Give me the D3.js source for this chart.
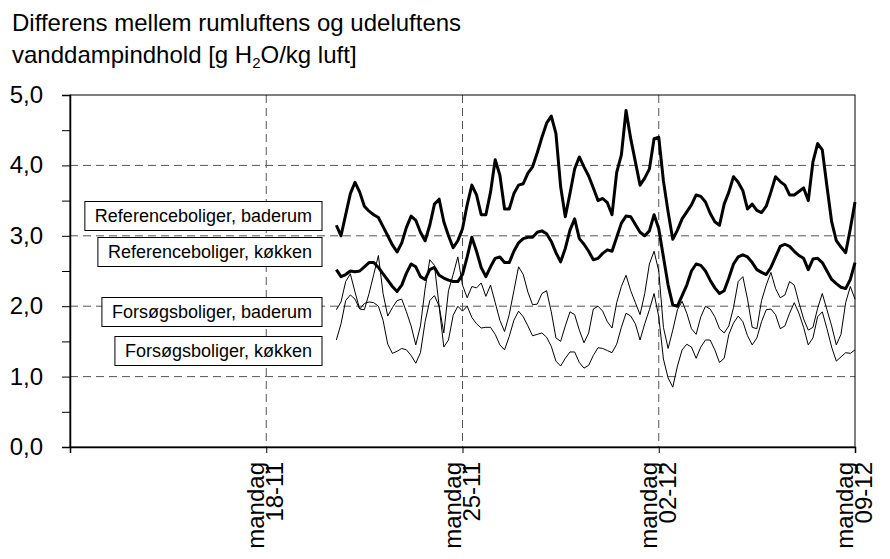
<!DOCTYPE html>
<html>
<head>
<meta charset="utf-8">
<script src="https://cdn.jsdelivr.net/npm/d3@7"></script>
<style>
  body { margin: 0; background: #fff; }
  svg text { font-family: "Liberation Sans", Arial, sans-serif; fill: #000; }
</style>
</head>
<body>
<div id="chart"></div>
<script>
// data: 4-hour readings from 20-11 12:00 to 09-12 00:00
var seriesNames = ["Referenceboliger, baderum", "Referenceboliger, køkken",
                   "Forsøgsboliger, baderum", "Forsøgsboliger, køkken"];

var refBaderum = [3.15,3.0,3.3,3.6,3.76,3.62,3.42,3.35,3.3,3.26,3.13,3.0,2.87,2.77,2.9,3.12,3.28,3.22,3.05,2.93,
  3.15,3.45,3.52,3.2,3.0,2.83,2.93,3.1,3.44,3.72,3.58,3.3,3.3,3.62,4.08,3.86,3.38,3.38,3.6,3.72,
  3.74,3.89,3.98,4.18,4.4,4.6,4.7,4.45,3.7,3.27,3.6,3.95,4.12,3.98,3.85,3.68,3.5,3.53,3.47,3.3,
  3.9,4.15,4.78,4.38,4.05,3.72,3.82,3.95,4.38,4.4,3.78,3.34,2.95,3.08,3.24,3.34,3.44,3.58,3.56,3.48,
  3.32,3.2,3.15,3.45,3.62,3.84,3.76,3.64,3.38,3.45,3.36,3.33,3.42,3.62,3.84,3.77,3.72,3.58,3.58,3.63,
  3.68,3.5,4.05,4.31,4.22,3.7,3.2,2.93,2.84,2.76,3.1,3.48];

var refKokken = [2.52,2.42,2.45,2.5,2.49,2.5,2.56,2.62,2.62,2.55,2.46,2.37,2.28,2.21,2.3,2.47,2.6,2.56,2.42,2.38,
  2.52,2.55,2.44,2.4,2.37,2.35,2.35,2.45,2.7,2.98,2.78,2.55,2.42,2.56,2.68,2.7,2.62,2.62,2.78,2.9,
  2.96,2.98,2.98,3.05,3.07,3.03,2.92,2.76,2.63,2.82,3.08,3.24,2.96,2.88,2.78,2.66,2.68,2.75,2.8,2.78,
  2.98,3.18,3.28,3.27,3.16,3.05,3.0,3.07,3.3,3.1,2.7,2.3,2.02,2.0,2.15,2.3,2.5,2.6,2.58,2.5,
  2.37,2.26,2.18,2.22,2.4,2.6,2.7,2.73,2.7,2.62,2.52,2.48,2.45,2.55,2.7,2.85,2.88,2.85,2.78,2.72,
  2.68,2.52,2.67,2.68,2.62,2.5,2.38,2.32,2.27,2.25,2.38,2.62];

var forBaderum = [1.95,2.06,2.35,2.46,2.2,1.96,1.95,2.18,2.45,2.72,2.18,1.86,1.98,2.08,2.1,1.92,1.72,1.45,1.72,2.25,
  2.66,2.58,2.0,1.62,2.22,2.45,2.7,2.3,2.12,2.28,2.26,2.33,2.14,2.3,2.05,1.8,1.64,1.88,2.22,2.56,
  2.45,2.2,2.02,2.03,2.18,2.22,1.92,1.55,1.5,1.72,1.92,1.88,1.66,1.48,1.62,1.96,2.0,1.93,1.78,1.69,
  2.05,2.28,2.44,2.22,2.05,1.88,2.18,2.6,2.78,2.5,1.7,1.4,1.66,1.95,2.07,1.9,1.68,1.6,1.85,2.0,
  1.96,1.85,1.68,1.62,1.72,1.98,2.35,2.42,2.1,1.7,1.68,2.08,2.3,2.48,2.25,2.12,2.16,2.35,2.3,2.05,
  1.82,1.66,1.7,1.97,2.18,1.95,1.72,1.45,1.6,2.05,2.28,2.1];

var forKokken = [1.52,1.75,2.08,2.16,2.1,1.96,2.04,2.06,2.05,2.0,1.8,1.46,1.33,1.36,1.4,1.38,1.3,1.19,1.34,1.78,
  2.08,2.15,2.0,1.42,1.52,1.87,2.0,1.93,2.0,1.84,1.75,1.69,1.7,1.7,1.6,1.45,1.38,1.57,1.8,1.93,
  1.85,1.72,1.58,1.6,1.62,1.56,1.43,1.22,1.15,1.26,1.35,1.35,1.2,1.12,1.16,1.3,1.41,1.4,1.37,1.34,
  1.46,1.7,1.9,1.86,1.75,1.52,1.75,1.95,2.18,1.85,1.25,0.98,0.85,1.15,1.38,1.46,1.42,1.26,1.42,1.52,
  1.52,1.38,1.2,1.26,1.6,1.76,1.86,1.78,1.58,1.45,1.55,1.78,1.95,1.96,1.88,1.68,1.72,1.9,2.05,1.9,
  1.7,1.45,1.55,1.85,1.92,1.68,1.42,1.22,1.28,1.34,1.33,1.38];

var firstReading = new Date(2002, 10, 20, 12);
var stepHours = 4;

var xTickDates = [new Date(2002, 10, 11), new Date(2002, 10, 18), new Date(2002, 10, 25),
                  new Date(2002, 11, 2), new Date(2002, 11, 9)];
var xTickLabels = [null, ["mandag", "18-11"], ["mandag", "25-11"], ["mandag", "02-12"], ["mandag", "09-12"]];
var yTicks = [0, 0.5, 1, 1.5, 2, 2.5, 3, 3.5, 4, 4.5, 5];
var yLabelTicks = [0, 1, 2, 3, 4, 5];

var margin = { top: 95, right: 35, bottom: 112, left: 70 },
  width = 890 - margin.left - margin.right,
  height = 559 - margin.top - margin.bottom;

var svg = d3.select("#chart")
  .append("svg")
  .attr("width", 890)
  .attr("height", 559);

// title
svg.append("text")
  .attr("x", 12)
  .attr("y", 31)
  .attr("font-size", 24)
  .text("Differens mellem rumluftens og udeluftens");
var t2 = svg.append("text")
  .attr("x", 12)
  .attr("y", 63)
  .attr("font-size", 24);
t2.append("tspan").text("vanddampindhold [g H");
t2.append("tspan").attr("font-size", 15).attr("dy", 5).text("2");
t2.append("tspan").attr("dy", -5).text("O/kg luft]");

var g = svg.append("g")
  .attr("transform", "translate(" + margin.left + "," + margin.top + ")");

var x = d3.scaleTime()
  .domain([xTickDates[0], xTickDates[xTickDates.length - 1]])
  .range([0, width]);
var y = d3.scaleLinear()
  .domain([0, 5])
  .range([height, 0]);

// grid lines
g.selectAll(".hgrid")
  .data([1, 2, 3, 4])
  .enter().append("line")
  .attr("x1", 0).attr("x2", width)
  .attr("y1", d => y(d)).attr("y2", d => y(d))
  .attr("stroke", "#555")
  .attr("stroke-width", 1)
  .attr("stroke-dasharray", "8,5");
g.selectAll(".vgrid")
  .data(xTickDates.slice(1, 4))
  .enter().append("line")
  .attr("x1", d => x(d)).attr("x2", d => x(d))
  .attr("y1", 0).attr("y2", height)
  .attr("stroke", "#555")
  .attr("stroke-width", 1)
  .attr("stroke-dasharray", "8,5");

// series
var series = [
  { values: refBaderum, w: 3 },
  { values: refKokken, w: 3 },
  { values: forBaderum, w: 1 },
  { values: forKokken, w: 1 }
];
var line = d3.line()
  .x((d, i) => x(d3.timeHour.offset(firstReading, i * stepHours)))
  .y(d => y(d));

g.selectAll(".series")
  .data(series)
  .enter().append("path")
  .attr("d", d => line(d.values))
  .attr("fill", "none")
  .attr("stroke", "#000")
  .attr("stroke-width", d => d.w)
  .attr("stroke-linejoin", "round");

// frame
g.append("rect")
  .attr("width", width)
  .attr("height", height)
  .attr("fill", "none")
  .attr("stroke", "#000")
  .attr("stroke-width", 1);

// y axis
var yAxis = g.append("g")
  .call(d3.axisLeft(y).tickValues(yTicks).tickSize(8).tickFormat(""));
yAxis.select(".domain").attr("stroke-width", 1.5);
g.selectAll(".ylab")
  .data(yLabelTicks)
  .enter().append("text")
  .attr("x", -27)
  .attr("y", d => y(d) + 8)
  .attr("text-anchor", "end")
  .attr("font-size", 24)
  .text(d => d3.format(".1f")(d).replace(".", ","));

// x axis
var xAxis = g.append("g")
  .attr("transform", "translate(0," + height + ")")
  .call(d3.axisBottom(x).tickValues(xTickDates).tickSize(6).tickFormat(""));
xAxis.select(".domain").attr("stroke-width", 1.5);

var xl = g.selectAll(".xlab")
  .data(xTickDates.map((d, i) => ({ d: d, lab: xTickLabels[i] })).filter(d => d.lab))
  .enter().append("text")
  .attr("transform", d => "translate(" + x(d.d) + "," + (height + 15) + ") rotate(-90)")
  .attr("text-anchor", "end")
  .attr("font-size", 24);
xl.append("tspan").attr("x", 0).attr("y", -2).text(d => d.lab[0]);
xl.append("tspan").attr("x", 0).attr("y", 17).text(d => d.lab[1]);

// series labels in boxes
var boxY = [216, 252, 312, 351];
var boxRight = 252;
seriesNames.forEach(function (name, i) {
  var lg = g.append("g");
  var r = lg.append("rect");
  var tx = lg.append("text")
    .attr("font-size", 18)
    .attr("text-anchor", "end")
    .attr("x", boxRight - 10)
    .attr("y", boxY[i] - margin.top + 6)
    .text(name);
  var w = tx.node().getComputedTextLength() + 20;
  r.attr("x", boxRight - w)
    .attr("y", boxY[i] - margin.top - 14.5)
    .attr("width", w)
    .attr("height", 29)
    .attr("fill", "#fff")
    .attr("stroke", "#000")
    .attr("stroke-width", 1);
});
</script>
</body>
</html>
